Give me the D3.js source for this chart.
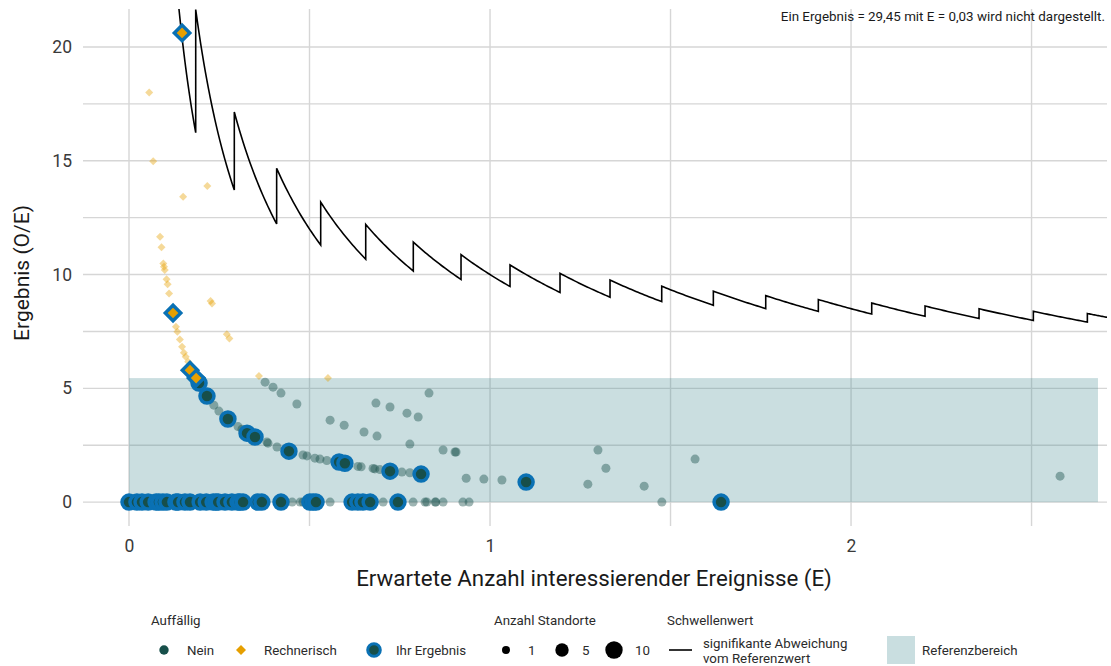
<!DOCTYPE html>
<html>
<head>
<meta charset="utf-8">
<script src="https://cdn.jsdelivr.net/npm/d3@7"></script>
<style>
  html, body { margin: 0; padding: 0; background: #ffffff; }
  svg { display: block; font-family: Roboto, "Noto Sans", sans-serif; }
</style>
</head>
<body>
<svg id="chart" width="1111" height="666"></svg>
<script>
// ---------------- DATA ----------------
// "Nein" results of other sites (expected count E, ratio O/E)
const neinE = [0.377, 0.399, 0.421, 0.465, 0.557, 0.596, 0.651, 0.687, 0.684, 0.723, 0.770, 0.801, 0.831,
  0.778, 0.870, 0.903, 0.906, 0.934, 0.983, 1.033, 1.271, 1.427, 1.299, 1.321, 1.568, 2.579,
  0.202, 0.235, 0.249, 0.302, 0.313, 0.382, 0.385, 0.410, 0.482, 0.493, 0.515, 0.529, 0.548,
  0.634, 0.643, 0.676, 0.681, 0.695, 0.756, 0.778,
  0.452, 0.474, 0.482, 0.529, 0.557, 0.704, 0.787, 0.820, 0.825, 0.848, 0.850, 0.870, 0.925, 0.942, 1.476];
const neinRatio = [5.27, 5.05, 4.79, 4.31, 3.60, 3.38, 3.08, 2.90, 4.35, 4.18, 3.91, 3.74, 4.79,
  2.55, 2.29, 2.20, 2.20, 1.05, 1.01, 0.97, 0.79, 0.70, 2.29, 1.49, 1.89, 1.14,
  5.00, 4.26, 4.00, 3.32, 3.20, 2.64, 2.59, 2.42, 2.07, 2.03, 1.93, 1.89, 1.83,
  1.57, 1.55, 1.48, 1.46, 1.43, 1.32, 1.29,
  0, 0, 0, 0, 0, 0, 0, 0, 0, 0, 0, 0, 0, 0, 0];

// "Rechnerisch" results of other sites
const rechE = [0.056, 0.067, 0.150, 0.217, 0.086, 0.090, 0.095, 0.097, 0.099, 0.104, 0.107, 0.111,
  0.130, 0.134, 0.141, 0.147, 0.152, 0.157, 0.164, 0.226, 0.230, 0.271, 0.278, 0.360, 0.551];
const rechRatio = [18.0, 14.98, 13.42, 13.89, 11.66, 11.2, 10.49, 10.34, 10.2, 9.79, 9.57, 9.17,
  7.71, 7.49, 7.15, 6.83, 6.56, 6.39, 6.17, 8.84, 8.73, 7.38, 7.19, 5.54, 5.45];

// "Ihr Ergebnis" – own results, not conspicuous
const ihrNeinE = [0.194, 0.216, 0.274, 0.327, 0.349, 0.443, 0.582, 0.598, 0.723, 0.809, 1.100,
  0, 0.022, 0.036, 0.053, 0.075, 0.083, 0.094, 0.105, 0.130, 0.136, 0.155, 0.169, 0.197, 0.214,
  0.233, 0.241, 0.247, 0.266, 0.285, 0.302, 0.307, 0.316, 0.357, 0.368, 0.421, 0.501, 0.510,
  0.518, 0.618, 0.634, 0.648, 0.668, 0.745, 1.640];
const ihrNeinRatio = [5.23, 4.66, 3.65, 3.03, 2.86, 2.24, 1.76, 1.71, 1.36, 1.23, 0.88,
  0, 0, 0, 0, 0, 0, 0, 0, 0, 0, 0, 0, 0, 0, 0, 0, 0, 0, 0, 0, 0, 0, 0, 0, 0, 0, 0, 0, 0, 0, 0, 0, 0, 0];

// "Ihr Ergebnis" – own results, computationally conspicuous
const ihrRechE = [0.147, 0.122, 0.169, 0.186];
const ihrRechRatio = [20.62, 8.31, 5.80, 5.45];

// Threshold (significant deviation): critical counts and the E at which the count steps up
const thresholdBreaksE = [0.13, 0.1848, 0.2917, 0.409, 0.531, 0.6557, 0.7875, 0.9197, 1.0554, 1.1939,
  1.3324, 1.4756, 1.6186, 1.7637, 1.9094, 2.0573, 2.205, 2.3546, 2.505, 2.6546, 2.72];
const thresholdCounts = [3, 4, 5, 6, 7, 8, 9, 10, 11, 12, 13, 14, 15, 16, 17, 18, 19, 20, 21, 22];

// Reference range
const referenceE = [0, 2.684];
const referenceRatio = [0, 5.45];

// Axes
const xDomain = [-0.1274, 2.709];
const yDomain = [-1.05, 21.67];
const xTicks = [0, 1, 2];
const xMinorTicks = [0.5, 1.5, 2.5];
const yTicks = [0, 5, 10, 15, 20];
const yMinorTicks = [2.5, 7.5, 12.5, 17.5];

const xTitle = "Erwartete Anzahl interessierender Ereignisse (E)";
const yTitle = "Ergebnis (O/E)";
const note = "Ein Ergebnis = 29,45 mit E = 0,03 wird nicht dargestellt.";

const legendGroupTitle = "Auffällig";
const legendGroupLabels = ["Nein", "Rechnerisch", "Ihr Ergebnis"];
const legendSizeTitle = "Anzahl Standorte";
const legendSizes = [1, 5, 10];
const legendLineTitle = "Schwellenwert";
const legendLineLabel = ["signifikante Abweichung", "vom Referenzwert"];
const legendBandLabel = "Referenzbereich";

// ---------------- STYLE ----------------
const C = {
  teal: "#174f4a",
  blue: "#0a71b4",
  orange: "#e69f00",
  grid: "#d6d6d6",
  band: "rgba(74,140,148,0.29)",
  bandSolid: "#c9dee0",
  text: "#2b2b2b"
};

const panel = { left: 83, right: 1107, top: 9, bottom: 526 };

const svg = d3.select("#chart");
const x = d3.scaleLinear().domain(xDomain).range([panel.left, panel.right]);
const y = d3.scaleLinear().domain(yDomain).range([panel.bottom, panel.top]);

svg.append("defs").append("clipPath").attr("id", "clip")
  .append("rect")
  .attr("x", panel.left).attr("y", panel.top)
  .attr("width", panel.right - panel.left).attr("height", panel.bottom - panel.top);

// Grid
const grid = svg.append("g");
grid.selectAll("line.gx").data(xTicks.concat(xMinorTicks)).join("line")
  .attr("x1", d => x(d)).attr("x2", d => x(d))
  .attr("y1", panel.top).attr("y2", panel.bottom)
  .attr("stroke", C.grid).attr("stroke-width", 1.4);
grid.selectAll("line.gy").data(yTicks.concat(yMinorTicks)).join("line")
  .attr("y1", d => y(d)).attr("y2", d => y(d))
  .attr("x1", panel.left).attr("x2", panel.right)
  .attr("stroke", C.grid).attr("stroke-width", 1.4);

// Reference band
svg.append("rect")
  .attr("x", x(referenceE[0])).attr("width", x(referenceE[1]) - x(referenceE[0]))
  .attr("y", y(referenceRatio[1])).attr("height", y(referenceRatio[0]) - y(referenceRatio[1]))
  .attr("fill", C.band);

// Threshold line
const thresholdPts = [];
thresholdCounts.forEach((k, i) => {
  const e0 = thresholdBreaksE[i], e1 = thresholdBreaksE[i + 1];
  const n = 24;
  for (let j = 0; j <= n; j++) {
    const e = e0 + (e1 - e0) * j / n;
    thresholdPts.push([e, k / e]);
  }
});
svg.append("path")
  .attr("clip-path", "url(#clip)")
  .attr("d", d3.line().x(d => x(d[0])).y(d => y(d[1]))(thresholdPts))
  .attr("fill", "none").attr("stroke", "#000").attr("stroke-width", 1.6)
  .attr("stroke-linejoin", "miter");

const pts = svg.append("g").attr("clip-path", "url(#clip)");
const diamond = d3.symbol().type(d3.symbolSquare);

// Nein points
pts.selectAll("circle.nein").data(d3.zip(neinE, neinRatio)).join("circle")
  .attr("cx", d => x(d[0])).attr("cy", d => y(d[1])).attr("r", 4.5)
  .attr("fill", C.teal).attr("fill-opacity", 0.42);

// Rechnerisch points
pts.selectAll("path.rech").data(d3.zip(rechE, rechRatio)).join("path")
  .attr("d", diamond.size(32))
  .attr("transform", d => `translate(${x(d[0])},${y(d[1])}) rotate(45)`)
  .attr("fill", C.orange).attr("fill-opacity", 0.4);

// Ihr Ergebnis (Nein)
pts.selectAll("circle.ihr").data(d3.zip(ihrNeinE, ihrNeinRatio)).join("circle")
  .attr("cx", d => x(d[0])).attr("cy", d => y(d[1])).attr("r", 7)
  .attr("fill", C.teal).attr("stroke", C.blue).attr("stroke-width", 3.5);

// Ihr Ergebnis (Rechnerisch)
pts.selectAll("path.ihrRech").data(d3.zip(ihrRechE, ihrRechRatio)).join("path")
  .attr("d", diamond.size(120))
  .attr("transform", d => `translate(${x(d[0])},${y(d[1])}) rotate(45)`)
  .attr("fill", C.orange).attr("stroke", C.blue).attr("stroke-width", 3.4);

// Axes labels
const yAxis = svg.append("g").attr("transform", `translate(${panel.left},0)`)
  .call(d3.axisLeft(y).tickValues(yTicks).tickFormat(d3.format("d")).tickSize(0).tickPadding(11));
yAxis.select(".domain").remove();
yAxis.selectAll("text").attr("font-size", 17.5).attr("fill", "#3a3a3a")
  .attr("font-family", "Roboto, sans-serif");

const xAxis = svg.append("g").attr("transform", `translate(0,${panel.bottom})`)
  .call(d3.axisBottom(x).tickValues(xTicks).tickFormat(d3.format("d")).tickSize(0).tickPadding(14));
xAxis.select(".domain").remove();
xAxis.selectAll("text").attr("font-size", 17.5).attr("fill", "#3a3a3a")
  .attr("font-family", "Roboto, sans-serif");

svg.append("text").text(xTitle)
  .attr("x", 594).attr("y", 586).attr("text-anchor", "middle")
  .attr("font-size", 22.3).attr("fill", "#1a1a1a");
svg.append("text").text(yTitle)
  .attr("transform", "translate(29,273) rotate(-90)").attr("text-anchor", "middle")
  .attr("font-size", 21).attr("fill", "#1a1a1a");

svg.append("text").text(note)
  .attr("x", 1105).attr("y", 21).attr("text-anchor", "end")
  .attr("font-size", 13.4).attr("fill", "#1a1a1a");

// ---------------- LEGEND ----------------
const lg = svg.append("g").attr("font-size", 13.3).attr("fill", C.text);
const ly = 650;
const titleY = 625;
lg.append("text").text(legendGroupTitle).attr("x", 151).attr("y", titleY);
lg.append("text").text(legendSizeTitle).attr("x", 494).attr("y", titleY);
lg.append("text").text(legendLineTitle).attr("x", 667).attr("y", titleY);

lg.append("circle").attr("cx", 164).attr("cy", ly).attr("r", 4.7).attr("fill", C.teal);
lg.append("path").attr("d", diamond.size(50)).attr("transform", `translate(241,${ly}) rotate(45)`)
  .attr("fill", C.orange);
lg.append("circle").attr("cx", 374).attr("cy", ly).attr("r", 6.3).attr("fill", C.teal)
  .attr("stroke", C.blue).attr("stroke-width", 3);
const groupLabelX = [187, 264, 396];
legendGroupLabels.forEach((t, i) => {
  lg.append("text").text(t).attr("x", groupLabelX[i]).attr("y", ly).attr("dy", "0.35em");
});

const rSize = d3.scaleSqrt().domain([1, 10]).range([4, 8.7]);
const sizeDotX = [506, 562, 614];
const sizeLabelX = [528, 582, 635];
legendSizes.forEach((s, i) => {
  lg.append("circle").attr("cx", sizeDotX[i]).attr("cy", ly).attr("r", rSize(s)).attr("fill", "#000");
  lg.append("text").text(s).attr("x", sizeLabelX[i]).attr("y", ly).attr("dy", "0.35em");
});

lg.append("line").attr("x1", 669).attr("x2", 692).attr("y1", ly).attr("y2", ly)
  .attr("stroke", "#000").attr("stroke-width", 1.6);
lg.append("text").text(legendLineLabel[0]).attr("x", 703).attr("y", 643).attr("dy", "0.35em");
lg.append("text").text(legendLineLabel[1]).attr("x", 703).attr("y", 658).attr("dy", "0.35em");

lg.append("rect").attr("x", 887).attr("y", 636).attr("width", 28).attr("height", 28)
  .attr("fill", C.bandSolid);
lg.append("text").text(legendBandLabel).attr("x", 922).attr("y", ly).attr("dy", "0.35em");
</script>
</body>
</html>
